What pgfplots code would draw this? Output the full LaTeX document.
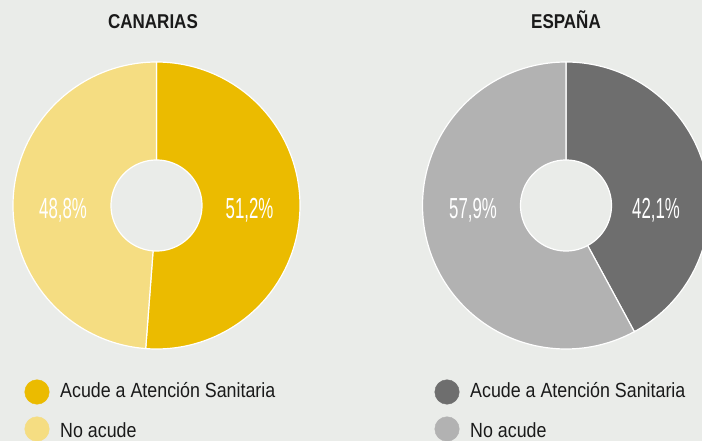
\documentclass[border=0pt]{standalone}
\usepackage{pgfplots}
\pgfplotsset{compat=1.18}
\usepackage{fontspec}
\setmainfont{Liberation Sans}
\definecolor{bg}{HTML}{EAECE9}
\definecolor{gold}{HTML}{EBBB00}
\definecolor{lightgold}{HTML}{F5DD82}
\definecolor{darkgr}{HTML}{6E6E6E}
\definecolor{lightgr}{HTML}{B2B2B2}
\definecolor{txt}{HTML}{1A1A1A}
% data (percent)
\def\canA{51.2}\def\canN{48.8}
\def\espA{42.1}\def\espN{57.9}
\pgfmathsetmacro{\canAstart}{90-3.6*\canA}
\pgfmathsetmacro{\canNend}{90+3.6*\canN}
\pgfmathsetmacro{\espAstart}{90-3.6*\espA}
\pgfmathsetmacro{\espNend}{90+3.6*\espN}
\newcommand{\pct}[1]{\scalebox{0.58}[1]{\fontsize{29bp}{30bp}\selectfont #1}}
\newcommand{\ttl}[1]{\scalebox{0.85}[1]{\fontsize{20bp}{22bp}\selectfont\bfseries #1}}
\newcommand{\lgd}[1]{\scalebox{0.87}[1]{\fontsize{20.5bp}{22bp}\selectfont #1}}
\begin{document}
\begin{tikzpicture}
\useasboundingbox (0,0) rectangle (702bp,441bp);
\fill[bg] (0,0) rectangle (702bp,441bp);
\begin{axis}[
  at={(0,0)}, anchor=south west,
  width=702bp, height=441bp, scale only axis,
  xmin=0, xmax=702, ymin=0, ymax=441,
  hide axis, samples=150,
]
% CANARIAS
\addplot[fill=gold, draw=white, line width=1.2pt, domain=\canAstart:90]
  ({156.5+143.5*cos(x)},{235.5+143.5*sin(x)}) -- (axis cs:156.5,235.5) -- cycle;
\addplot[fill=lightgold, draw=white, line width=1.2pt, domain=90:\canNend]
  ({156.5+143.5*cos(x)},{235.5+143.5*sin(x)}) -- (axis cs:156.5,235.5) -- cycle;
\addplot[fill=bg, draw=white, line width=1.2pt, domain=0:360]
  ({156.5+45.5*cos(x)},{235.5+45.5*sin(x)}) -- cycle;
% ESPANA
\addplot[fill=darkgr, draw=white, line width=1.2pt, domain=\espAstart:90]
  ({566+143.5*cos(x)},{235.5+143.5*sin(x)}) -- (axis cs:566,235.5) -- cycle;
\addplot[fill=lightgr, draw=white, line width=1.2pt, domain=90:\espNend]
  ({566+143.5*cos(x)},{235.5+143.5*sin(x)}) -- (axis cs:566,235.5) -- cycle;
\addplot[fill=bg, draw=white, line width=1.2pt, domain=0:360]
  ({566+45.5*cos(x)},{235.5+45.5*sin(x)}) -- cycle;
% legend markers
\addplot[only marks, mark=*, mark size=12.3pt, color=gold] coordinates {(37,49)};
\addplot[only marks, mark=*, mark size=12.3pt, color=lightgold] coordinates {(37,12)};
\addplot[only marks, mark=*, mark size=12.3pt, color=darkgr] coordinates {(447,49)};
\addplot[only marks, mark=*, mark size=12.3pt, color=lightgr] coordinates {(447,12)};
% labels
\node[anchor=base, white, inner sep=0] at (axis cs:249.5,222) {\pct{51,2\%}};
\node[anchor=base, white, inner sep=0] at (axis cs:63,222) {\pct{48,8\%}};
\node[anchor=base, white, inner sep=0] at (axis cs:656,222) {\pct{42,1\%}};
\node[anchor=base, white, inner sep=0] at (axis cs:473,222) {\pct{57,9\%}};
\node[anchor=base, txt, inner sep=0] at (axis cs:153,412) {\ttl{CANARIAS}};
\node[anchor=base, txt, inner sep=0] at (axis cs:566,412) {\ttl{ESPAÑA}};
\node[anchor=base west, txt, inner sep=0] at (axis cs:60,43) {\lgd{Acude a Atención Sanitaria}};
\node[anchor=base west, txt, inner sep=0] at (axis cs:60,4) {\lgd{No acude}};
\node[anchor=base west, txt, inner sep=0] at (axis cs:470,43) {\lgd{Acude a Atención Sanitaria}};
\node[anchor=base west, txt, inner sep=0] at (axis cs:470,4) {\lgd{No acude}};
\end{axis}
\end{tikzpicture}
\end{document}
